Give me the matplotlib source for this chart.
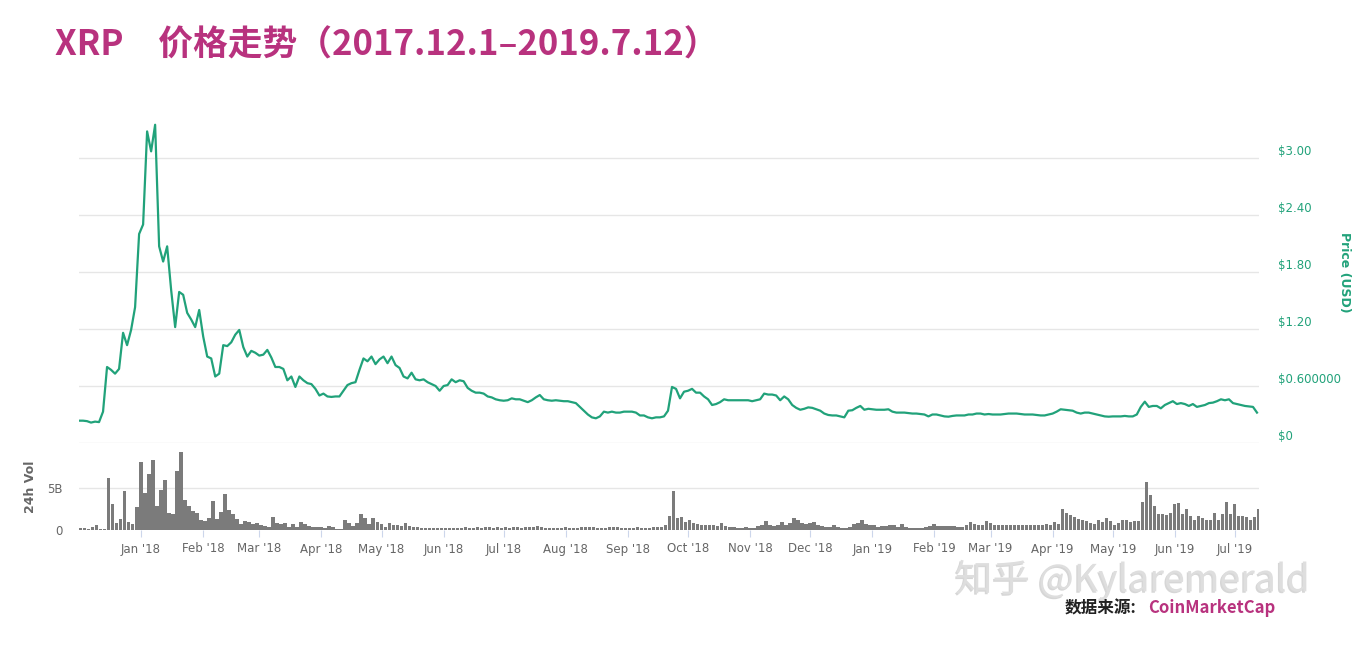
import pandas as pd
import matplotlib
matplotlib.use("Agg")
import matplotlib.pyplot as plt
import matplotlib.patheffects as pe

plt.rcParams['font.family'] = ['DejaVu Sans', 'Noto Sans CJK SC']
CJK = ['Noto Sans CJK SC', 'DejaVu Sans']

# Precio XRP (USD), un valor cada 2 dias desde 2017-12-01 hasta 2019-07-12
precio = [
    0.235, 0.235, 0.23, 0.215, 0.225, 0.22, 0.33, 0.80, 0.77, 0.73,
    0.78, 1.16, 1.03, 1.19, 1.43, 2.20, 2.30, 3.28, 3.07, 3.35,
    2.07, 1.91, 2.07, 1.61, 1.22, 1.59, 1.56, 1.37, 1.30, 1.22,
    1.40, 1.12, 0.91, 0.89, 0.70, 0.73, 1.03, 1.02, 1.06, 1.14,
    1.19, 1.01, 0.91, 0.97, 0.95, 0.92, 0.93, 0.98, 0.90, 0.80,
    0.80, 0.78, 0.66, 0.70, 0.59, 0.70, 0.66, 0.63, 0.62, 0.57,
    0.50, 0.52, 0.49, 0.485, 0.49, 0.49, 0.55, 0.61, 0.63, 0.64,
    0.77, 0.89, 0.86, 0.91, 0.83, 0.88, 0.91, 0.84, 0.91, 0.82,
    0.79, 0.70, 0.68, 0.74, 0.67, 0.66, 0.67, 0.64, 0.62, 0.60,
    0.55, 0.60, 0.61, 0.67, 0.64, 0.66, 0.65, 0.58, 0.55, 0.53,
    0.53, 0.52, 0.49, 0.48, 0.46, 0.45, 0.445, 0.45, 0.47, 0.46,
    0.46, 0.445, 0.43, 0.45, 0.48, 0.505, 0.46, 0.45, 0.445, 0.45,
    0.445, 0.44, 0.44, 0.43, 0.42, 0.38, 0.34, 0.30, 0.27, 0.26,
    0.28, 0.33, 0.32, 0.33, 0.32, 0.32, 0.33, 0.33, 0.33, 0.32,
    0.29, 0.29, 0.27, 0.26, 0.27, 0.27, 0.28, 0.34, 0.59, 0.57,
    0.47, 0.54, 0.55, 0.57, 0.53, 0.53, 0.49, 0.46, 0.40, 0.41,
    0.43, 0.46, 0.45, 0.45, 0.45, 0.45, 0.45, 0.45, 0.44, 0.45,
    0.46, 0.52, 0.51, 0.51, 0.50, 0.45, 0.49, 0.46, 0.40, 0.37,
    0.35, 0.36, 0.375, 0.37, 0.355, 0.34, 0.31, 0.295, 0.29, 0.29,
    0.28, 0.27, 0.34, 0.345, 0.37, 0.39, 0.35, 0.36, 0.355, 0.35,
    0.35, 0.35, 0.355, 0.33, 0.32, 0.32, 0.32, 0.315, 0.31, 0.31,
    0.305, 0.30, 0.28, 0.30, 0.30, 0.29, 0.28, 0.277, 0.285, 0.29,
    0.29, 0.29, 0.30, 0.30, 0.31, 0.31, 0.30, 0.305, 0.30, 0.30,
    0.30, 0.305, 0.31, 0.31, 0.31, 0.305, 0.30, 0.30, 0.30, 0.295,
    0.29, 0.29, 0.30, 0.31, 0.33, 0.355, 0.35, 0.345, 0.34, 0.32,
    0.31, 0.32, 0.32, 0.31, 0.30, 0.29, 0.28, 0.277, 0.28, 0.28,
    0.28, 0.285, 0.28, 0.28, 0.30, 0.38, 0.435, 0.38, 0.39, 0.39,
    0.365, 0.40, 0.42, 0.44, 0.41, 0.42, 0.41, 0.39, 0.41, 0.38,
    0.39, 0.40, 0.42, 0.425, 0.44, 0.46, 0.45, 0.46, 0.42, 0.41,
    0.40, 0.39, 0.385, 0.38, 0.32,
]

# Volumen 24h (miles de millones USD), mismas fechas
volumen = [
    0.2, 0.2, 0.15, 0.35, 0.55, 0.1, 0.1, 6.2, 3.1, 0.8,
    1.3, 4.7, 0.9, 0.7, 2.7, 8.15, 4.4, 6.7, 8.35, 2.8,
    4.8, 6.0, 2.0, 1.85, 7.0, 9.25, 3.6, 2.8, 2.3, 2.0,
    1.15, 1.1, 1.4, 3.4, 1.3, 2.1, 4.3, 2.4, 1.85, 1.3,
    0.7, 1.05, 1.0, 0.75, 0.85, 0.65, 0.45, 0.35, 1.5, 0.8,
    0.75, 0.85, 0.3, 0.75, 0.35, 0.9, 0.75, 0.5, 0.3, 0.3,
    0.3, 0.28, 0.45, 0.3, 0.1, 0.1, 1.15, 0.85, 0.45, 0.8,
    1.9, 1.4, 0.7, 1.4, 0.95, 0.75, 0.3, 0.8, 0.65, 0.55,
    0.45, 0.85, 0.45, 0.4, 0.35, 0.28, 0.25, 0.2, 0.2, 0.25,
    0.2, 0.28, 0.28, 0.25, 0.25, 0.2, 0.3, 0.25, 0.28, 0.3,
    0.25, 0.3, 0.35, 0.25, 0.3, 0.28, 0.3, 0.2, 0.35, 0.3,
    0.25, 0.3, 0.35, 0.4, 0.5, 0.35, 0.25, 0.2, 0.2, 0.2,
    0.25, 0.3, 0.25, 0.2, 0.25, 0.3, 0.3, 0.35, 0.3, 0.25,
    0.2, 0.25, 0.3, 0.35, 0.3, 0.25, 0.2, 0.2, 0.25, 0.3,
    0.25, 0.2, 0.25, 0.3, 0.35, 0.3, 0.6, 1.65, 4.7, 1.4,
    1.5, 0.9, 1.25, 0.8, 0.7, 0.6, 0.6, 0.65, 0.6, 0.5,
    0.87, 0.5, 0.4, 0.3, 0.2, 0.2, 0.3, 0.25, 0.25, 0.45,
    0.65, 1.06, 0.65, 0.5, 0.55, 1.0, 0.6, 0.8, 1.45, 1.2,
    0.85, 0.75, 0.85, 0.95, 0.65, 0.5, 0.35, 0.4, 0.55, 0.35,
    0.25, 0.25, 0.3, 0.7, 0.8, 1.15, 0.7, 0.6, 0.6, 0.35,
    0.45, 0.45, 0.6, 0.55, 0.35, 0.75, 0.3, 0.25, 0.25, 0.2,
    0.25, 0.35, 0.45, 0.75, 0.45, 0.45, 0.45, 0.5, 0.45, 0.4,
    0.4, 0.65, 0.95, 0.75, 0.65, 0.65, 1.05, 0.8, 0.65, 0.6,
    0.6, 0.65, 0.65, 0.6, 0.65, 0.65, 0.6, 0.65, 0.65, 0.6,
    0.65, 0.75, 0.65, 0.95, 0.75, 2.45, 2.05, 1.8, 1.5, 1.35,
    1.25, 1.05, 0.85, 0.75, 1.15, 0.95, 1.45, 1.05, 0.65, 0.8,
    1.25, 1.25, 0.95, 1.05, 1.1, 3.3, 5.67, 4.2, 2.8, 1.85,
    1.85, 1.75, 2.05, 3.1, 3.2, 1.9, 2.45, 1.65, 1.25, 1.65,
    1.45, 1.15, 1.25, 2.05, 1.25, 1.95, 3.35, 1.85, 3.1, 1.65,
    1.65, 1.5, 1.25, 1.5, 2.45,
]

fechas = pd.date_range("2017-12-01", periods=len(precio), freq="2D")

meses = pd.date_range("2018-01-01", "2019-07-01", freq="MS")
etiquetas_meses = [m.strftime("%b '%y") for m in meses]
precio_ticks = [0, 0.6, 1.2, 1.8, 2.4, 3.0]
precio_labels = ["$0", "$0.600000", "$1.20", "$1.80", "$2.40", "$3.00"]
vol_ticks = [0, 5]
vol_labels = ["0", "5B"]

verde = "#21a27a"
magenta = "#b8327e"
gris_texto = "#666666"
gris_grid = "#e6e6e6"

W, H = 1366, 650
fig = plt.figure(figsize=(W / 100, H / 100), dpi=100)

# panel de precio
ax_p = fig.add_axes([79 / W, 1 - 443 / H, 1180 / W, 342 / H])
ax_p.plot(fechas, precio, color=verde, lw=1.6, solid_joinstyle="round")
ax_p.set_ylim(0, 3.6)
ax_p.set_yticks(precio_ticks)
ax_p.set_yticklabels(precio_labels)
ax_p.yaxis.tick_right()
ax_p.tick_params(axis="y", length=0, pad=14, labelcolor=verde, labelsize=8.5)
for lbl in ax_p.get_yticklabels():
    lbl.set_verticalalignment("bottom")
ax_p.tick_params(axis="x", bottom=False, labelbottom=False)
ax_p.grid(axis="y", color=gris_grid, lw=1)
for s in ax_p.spines.values():
    s.set_visible(False)

# panel de volumen
ax_v = fig.add_axes([79 / W, 1 - 530 / H, 1180 / W, 86 / H], sharex=ax_p)
ax_v.bar(fechas, volumen, width=1.7, align="edge", color="#7b7b7b")
ax_v.set_ylim(0, 10.24)
ax_v.set_yticks(vol_ticks)
ax_v.set_yticklabels(vol_labels)
ax_v.tick_params(axis="y", length=0, pad=12, labelcolor=gris_texto, labelsize=8.5)
ax_v.grid(axis="y", color=gris_grid, lw=1)
ax_v.set_axisbelow(True)
ax_v.set_xticks(meses)
ax_v.set_xticklabels(etiquetas_meses)
ax_v.tick_params(axis="x", length=5, color="#ccd6eb", labelcolor=gris_texto, labelsize=8.5, pad=4)
for s in ax_v.spines.values():
    s.set_visible(False)
ax_v.set_xlim(fechas[0], pd.Timestamp("2019-07-13"))

fig.text(30 / W, 1 - 487 / H, "24h Vol", rotation=90, ha="center", va="center",
         color=gris_texto, fontsize=9, fontweight="bold")
fig.text(1345 / W, 1 - 272 / H, "Price (USD)", rotation=270, ha="center", va="center",
         color=verde, fontsize=9, fontweight="bold")

# titulo
fig.text(55 / W, 1 - 45 / H, "XRP\u3000价格走势（2017.12.1–2019.7.12）", family=CJK,
         fontsize=25, fontweight="bold", color=magenta, va="center", ha="left")

# marca de agua y fuente
fig.text(955 / W, 1 - 580 / H, "知乎 @Kylaremerald", family=CJK, fontsize=27,
         fontweight="light", color="#dedede", va="center", ha="left", zorder=1,
         path_effects=[pe.withSimplePatchShadow(offset=(-1.0, -1.0), shadow_rgbFace="#8a8a8a", alpha=0.35)])
fig.text(1065 / W, 1 - 608 / H, "数据来源:", family=CJK, fontsize=12,
         fontweight="bold", color="#222222", va="center", ha="left", zorder=2)
fig.text(1148 / W, 1 - 608 / H, "CoinMarketCap", family=CJK, fontsize=12,
         fontweight="bold", color=magenta, va="center", ha="left", zorder=2)

fig.savefig("out.png", dpi=100)
